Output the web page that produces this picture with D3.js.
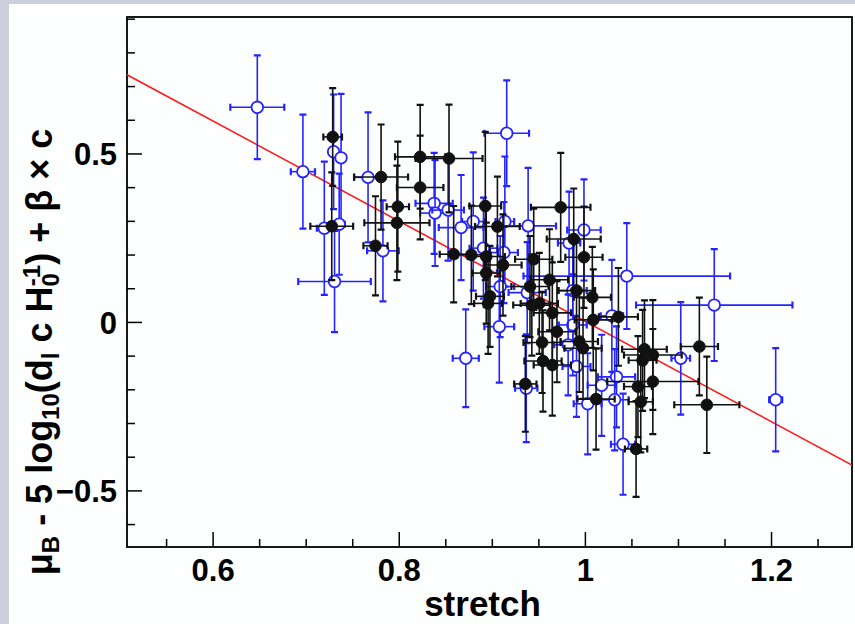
<!DOCTYPE html>
<html lang="en">
<head>
    <meta charset="UTF-8">
    <script src="https://cdn.jsdelivr.net/npm/d3@7"></script>
    <title>stretch vs corrected magnitude</title>
    <style>
        html, body {
            margin: 0;
            padding: 0;
            background: #cbd0dc;
        }
        .panel {
            position: absolute;
            left: 9px;
            top: 4px;
            width: 846px;
            height: 620px;
            background: #fdfefe;
        }
        svg {
            position: absolute;
            left: 0;
            top: 0;
        }
        text {
            font-family: "Liberation Sans", Arial, Helvetica, sans-serif;
            font-weight: bold;
            fill: #000;
        }
    </style>
</head>
<body>
<div class="panel"></div>
<svg id="chart" width="855" height="624"></svg>

<script>
    // axis ranges and ticks
    const xRange = [0.508, 1.287];
    const yRange = [-0.668, 0.905];
    const xMajor = [0.6, 0.8, 1, 1.2];
    const xMinor = [0.55, 0.65, 0.7, 0.75, 0.85, 0.9, 0.95, 1.05, 1.1, 1.15, 1.25];
    const yMajor = [-0.5, 0, 0.5];
    const yMinor = [-0.6, -0.4, -0.3, -0.2, -0.1, 0.1, 0.2, 0.3, 0.4, 0.6, 0.7, 0.8, 0.9];

    // fitted line: value = fitIntercept + fitSlope * stretch
    const fitIntercept = 1.489;
    const fitSlope = -1.487;

    // open (blue) points: [stretch, value, stretch error, value error]
    const openPoints = [
        [0.648, 0.637, 0.029, 0.154],
        [0.697, 0.446, 0.013, 0.169],
        [0.730, 0.505, 0.005, 0.170],
        [0.738, 0.487, 0.005, 0.190],
        [0.767, 0.429, 0.015, 0.193],
        [0.720, 0.278, 0.008, 0.198],
        [0.736, 0.290, 0.006, 0.150],
        [0.783, 0.211, 0.017, 0.150],
        [0.731, 0.120, 0.039, 0.150],
        [0.838, 0.352, 0.020, 0.150],
        [0.839, 0.323, 0.016, 0.157],
        [0.853, 0.332, 0.017, 0.150],
        [0.916, 0.560, 0.024, 0.157],
        [0.880, 0.298, 0.012, 0.205],
        [0.867, 0.280, 0.024, 0.156],
        [0.914, 0.298, 0.010, 0.193],
        [0.939, 0.285, 0.030, 0.172],
        [0.999, 0.273, 0.018, 0.150],
        [0.983, 0.234, 0.012, 0.153],
        [1.045, 0.136, 0.111, 0.157],
        [0.891, 0.219, 0.015, 0.150],
        [0.913, 0.206, 0.015, 0.150],
        [0.909, 0.105, 0.015, 0.150],
        [0.938, 0.087, 0.020, 0.150],
        [0.987, 0.093, 0.015, 0.150],
        [1.029, 0.018, 0.012, 0.166],
        [0.987, -0.009, 0.015, 0.150],
        [0.982, -0.068, 0.015, 0.150],
        [0.991, -0.132, 0.015, 0.150],
        [0.908, -0.014, 0.016, 0.166],
        [0.872, -0.108, 0.014, 0.145],
        [0.937, -0.197, 0.012, 0.160],
        [1.034, -0.163, 0.020, 0.150],
        [1.018, -0.188, 0.015, 0.150],
        [1.003, -0.243, 0.015, 0.150],
        [1.032, -0.231, 0.015, 0.150],
        [1.041, -0.363, 0.013, 0.150],
        [1.103, -0.108, 0.010, 0.167],
        [1.139, 0.050, 0.084, 0.166],
        [1.205, -0.231, 0.007, 0.153]
    ];

    // filled (black) points: [stretch, value, stretch error, value error]
    const filledPoints = [
        [0.729, 0.549, 0.010, 0.145],
        [0.781, 0.430, 0.029, 0.156],
        [0.728, 0.284, 0.023, 0.160],
        [0.823, 0.490, 0.027, 0.154],
        [0.823, 0.399, 0.025, 0.154],
        [0.854, 0.485, 0.036, 0.160],
        [0.799, 0.342, 0.012, 0.193],
        [0.798, 0.294, 0.035, 0.170],
        [0.775, 0.226, 0.013, 0.147],
        [0.893, 0.344, 0.017, 0.220],
        [0.906, 0.283, 0.024, 0.148],
        [0.974, 0.340, 0.032, 0.162],
        [0.988, 0.246, 0.029, 0.150],
        [0.999, 0.192, 0.020, 0.150],
        [0.859, 0.201, 0.015, 0.143],
        [0.878, 0.199, 0.015, 0.146],
        [0.894, 0.194, 0.020, 0.150],
        [0.912, 0.169, 0.020, 0.150],
        [0.894, 0.145, 0.015, 0.150],
        [0.945, 0.186, 0.020, 0.150],
        [0.962, 0.125, 0.020, 0.150],
        [0.941, 0.105, 0.020, 0.150],
        [0.898, 0.076, 0.015, 0.150],
        [0.896, 0.055, 0.015, 0.150],
        [0.951, 0.055, 0.020, 0.150],
        [0.943, 0.050, 0.020, 0.150],
        [0.965, 0.027, 0.020, 0.150],
        [0.991, 0.093, 0.020, 0.150],
        [1.008, 0.073, 0.020, 0.150],
        [1.036, 0.015, 0.021, 0.145],
        [1.009, 0.006, 0.020, 0.150],
        [0.970, -0.029, 0.020, 0.150],
        [0.954, -0.061, 0.020, 0.150],
        [0.994, -0.058, 0.020, 0.150],
        [0.998, -0.078, 0.020, 0.150],
        [0.955, -0.116, 0.020, 0.150],
        [0.965, -0.128, 0.020, 0.150],
        [0.936, -0.184, 0.012, 0.142],
        [1.012, -0.229, 0.020, 0.150],
        [1.064, -0.081, 0.024, 0.145],
        [1.073, -0.098, 0.031, 0.163],
        [1.062, -0.114, 0.015, 0.150],
        [1.073, -0.177, 0.049, 0.156],
        [1.057, -0.192, 0.015, 0.150],
        [1.060, -0.237, 0.013, 0.150],
        [1.055, -0.377, 0.012, 0.142],
        [1.123, -0.073, 0.020, 0.145],
        [1.131, -0.246, 0.035, 0.143]
    ];

    const frame = {left: 127, right: 852, top: 17, bottom: 547};
    const svg = d3.select("#chart");

    const x = d3.scaleLinear().domain(xRange).range([frame.left, frame.right]);
    const y = d3.scaleLinear().domain(yRange).range([frame.bottom, frame.top]);

    svg.append("clipPath").attr("id", "plotClip")
        .append("rect")
        .attr("x", frame.left).attr("y", frame.top)
        .attr("width", frame.right - frame.left)
        .attr("height", frame.bottom - frame.top);

    // ticks point inward (ROOT style)
    const majorLen = 15, minorLen = 8;

    const xAxisMajor = d3.axisBottom(x).tickValues(xMajor).tickSize(-majorLen).tickPadding(12)
        .tickFormat(d => d3.format("")(d));
    const xAxisMinor = d3.axisBottom(x).tickValues(xMinor).tickSize(-minorLen).tickFormat("");
    const yAxisMajor = d3.axisLeft(y).tickValues(yMajor).tickSize(-majorLen).tickPadding(10)
        .tickFormat(d => d3.format("")(d));
    const yAxisMinor = d3.axisLeft(y).tickValues(yMinor).tickSize(-minorLen).tickFormat("");

    function styleAxis(g) {
        g.select(".domain").remove();
        g.selectAll(".tick line").attr("stroke", "#000").attr("stroke-width", 1.5);
        g.selectAll(".tick text").style("font-size", "31px").attr("fill", "#000");
    }

    svg.append("g").attr("transform", `translate(0,${frame.bottom})`).call(xAxisMinor).call(styleAxis);
    svg.append("g").attr("transform", `translate(0,${frame.bottom})`).call(xAxisMajor).call(styleAxis)
        .selectAll(".tick text").attr("dy", "0.72em");
    svg.append("g").attr("transform", `translate(${frame.left},0)`).call(yAxisMinor).call(styleAxis);
    svg.append("g").attr("transform", `translate(${frame.left},0)`).call(yAxisMajor).call(styleAxis)
        .selectAll(".tick text").attr("dy", "0.36em");

    // frame box
    svg.append("rect")
        .attr("x", frame.left).attr("y", frame.top)
        .attr("width", frame.right - frame.left)
        .attr("height", frame.bottom - frame.top)
        .attr("fill", "none").attr("stroke", "#000").attr("stroke-width", 1.8);

    const plot = svg.append("g").attr("clip-path", "url(#plotClip)");

    // fit line
    plot.append("line")
        .attr("x1", x(xRange[0])).attr("y1", y(fitIntercept + fitSlope * xRange[0]))
        .attr("x2", x(xRange[1])).attr("y2", y(fitIntercept + fitSlope * xRange[1]))
        .attr("stroke", "#ff1a1a").attr("stroke-width", 1.6);

    const r = 5.8, cap = 3.5;

    function drawSeries(data, color, filled) {
        const g = plot.append("g");
        const bars = g.selectAll("g.pt").data(data).enter().append("g").attr("class", "pt");

        // horizontal error bar
        bars.append("line")
            .attr("x1", d => x(d[0] - d[2])).attr("x2", d => x(d[0] + d[2]))
            .attr("y1", d => y(d[1])).attr("y2", d => y(d[1]))
            .attr("stroke", color).attr("stroke-width", 1.6);
        // vertical error bar
        bars.append("line")
            .attr("x1", d => x(d[0])).attr("x2", d => x(d[0]))
            .attr("y1", d => y(d[1] - d[3])).attr("y2", d => y(d[1] + d[3]))
            .attr("stroke", color).attr("stroke-width", 1.6);
        // end caps
        bars.append("path")
            .attr("d", d => {
                const cx = x(d[0]), cy = y(d[1]);
                const xl = x(d[0] - d[2]), xr = x(d[0] + d[2]);
                const yt = y(d[1] + d[3]), yb = y(d[1] - d[3]);
                return `M${xl},${cy - cap}V${cy + cap}M${xr},${cy - cap}V${cy + cap}` +
                    `M${cx - cap},${yt}H${cx + cap}M${cx - cap},${yb}H${cx + cap}`;
            })
            .attr("stroke", color).attr("stroke-width", 2.2).attr("fill", "none");

        bars.append("circle")
            .attr("cx", d => x(d[0])).attr("cy", d => y(d[1]))
            .attr("r", r)
            .attr("fill", filled ? color : "#fff")
            .attr("stroke", color).attr("stroke-width", filled ? 1 : 1.8);
    }

    drawSeries(openPoints, "#2424ff", false);
    drawSeries(filledPoints, "#111", true);

    // axis titles
    svg.append("text")
        .attr("x", (frame.left + frame.right) / 2 - 7).attr("y", 616)
        .attr("text-anchor", "middle")
        .style("font-size", "35px")
        .text("stretch");

    const yTitle = svg.append("text")
        .attr("transform", "translate(52,352) rotate(-90)")
        .attr("text-anchor", "middle")
        .style("font-size", "36px");
    yTitle.append("tspan").text("\u03bc");
    yTitle.append("tspan").attr("baseline-shift", "-30%").style("font-size", "24px").text("B");
    yTitle.append("tspan").text(" - 5 log");
    yTitle.append("tspan").attr("baseline-shift", "-30%").style("font-size", "24px").text("10");
    yTitle.append("tspan").text("(d");
    yTitle.append("tspan").attr("baseline-shift", "-30%").style("font-size", "24px").text("l");
    yTitle.append("tspan").text(" c H");
    yTitle.append("tspan").attr("baseline-shift", "-30%").style("font-size", "24px").text("0");
    yTitle.append("tspan").attr("dx", -13).attr("baseline-shift", "50%").style("font-size", "24px").text("-1");
    yTitle.append("tspan").text(") + \u03b2 \u00d7 c");
</script>
</body>
</html>
